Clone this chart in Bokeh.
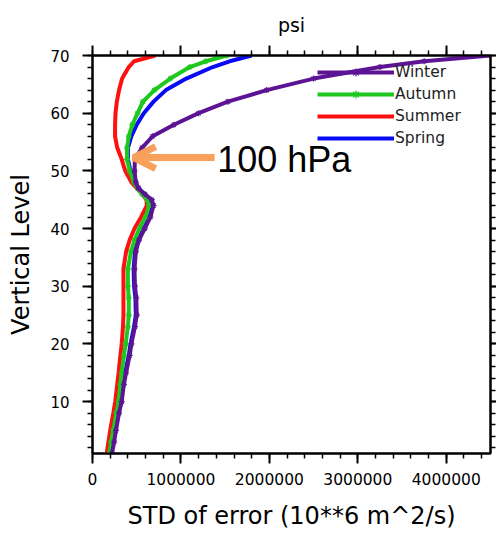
from bokeh.plotting import figure
from bokeh.models import (LinearAxis, FixedTicker, Range1d, Legend, LegendItem,
                          Arrow, OpenHead, Label, BasicTickFormatter, CustomJSTickFormatter)
from bokeh.embed import file_html
from bokeh.resources import INLINE

# ---- data (values in units of 10**6 m^2/s) ----
levels = [1, 3, 5, 8, 10, 13, 15, 18, 20, 23, 25, 28, 30, 33, 36, 38, 40, 42, 44, 45,
          46, 47, 48, 50, 52, 54, 56, 58, 60, 62, 64, 66, 68, 69, 70]
winter = [0.22, 0.245, 0.265, 0.30, 0.33, 0.355, 0.38, 0.42, 0.44, 0.48, 0.50, 0.495, 0.48,
          0.475, 0.49, 0.525, 0.59, 0.655, 0.69, 0.67, 0.59, 0.52, 0.49, 0.475, 0.48, 0.56,
          0.68, 0.92, 1.20, 1.53, 1.97, 2.50, 3.25, 3.75, 4.50]
autumn = [0.19, 0.21, 0.235, 0.27, 0.295, 0.315, 0.33, 0.355, 0.375, 0.40, 0.41, 0.41, 0.40,
          0.40, 0.435, 0.475, 0.53, 0.60, 0.64, 0.62, 0.56, 0.51, 0.47, 0.42, 0.39, 0.39,
          0.41, 0.45, 0.51, 0.57, 0.70, 0.88, 1.10, 1.28, 1.52]
summer = [0.16, 0.18, 0.20, 0.235, 0.257, 0.28, 0.295, 0.315, 0.33, 0.345, 0.35, 0.35, 0.35,
          0.35, 0.38, 0.42, 0.475, 0.55, 0.615, 0.61, 0.56, 0.50, 0.44, 0.37, 0.33, 0.28,
          0.255, 0.255, 0.26, 0.275, 0.30, 0.335, 0.41, 0.47, 0.71]
spring = [0.21, 0.235, 0.255, 0.29, 0.32, 0.345, 0.37, 0.41, 0.43, 0.47, 0.49, 0.485, 0.47,
          0.465, 0.48, 0.515, 0.58, 0.645, 0.68, 0.66, 0.58, 0.51, 0.475, 0.43, 0.40, 0.40,
          0.44, 0.50, 0.58, 0.69, 0.83, 1.06, 1.36, 1.55, 1.80]
UNIT = 1e6
X_MAX = 4.5e6
Y_MIN, Y_MAX = 1, 70

x_ticks = [0, 1000000, 2000000, 3000000, 4000000]
x_minor = [i * 200000 for i in range(0, 23)]
y_ticks = [10, 20, 30, 40, 50, 60, 70]
y_minor = [i * 2 for i in range(1, 36)]

title_text = "psi"
x_label = "STD of error (10**6 m^2/s)"
y_label = "Vertical Level"
annot_text = "100 hPa"
annot_level = 52.3          # level the arrow points at
annot_x_tip = 0.465         # x (10**6) of arrow tip
annot_x_tail = 1.38
annot_text_x = 1.41
annot_text_level = 51.9

FONT = "DejaVu Sans"
PURPLE = "#5c1495"
GREEN = "#1ec81e"
RED = "#ff1010"
BLUE = "#0a0af5"
ORANGE = "#f9a15c"

p = figure(width=496, height=535, output_backend="svg", toolbar_location=None,
           x_range=Range1d(0, X_MAX), y_range=Range1d(Y_MIN, Y_MAX),
           x_axis_location=None, y_axis_location=None,
           min_border_left=92, min_border_right=6, min_border_top=55, min_border_bottom=82)
p.grid.visible = False
p.outline_line_color = "black"
p.outline_line_width = 2
p.background_fill_color = "white"
p.border_fill_color = "white"

p.title.text = title_text
p.title.align = "center"
p.title.text_font = FONT
p.title.text_font_size = "19px"
p.title.text_font_style = "normal"
p.title.text_color = "black"
p.title.standoff = 20


def style_axis(ax, show_labels):
    ax.axis_line_width = 2
    ax.major_tick_line_width = 2
    ax.minor_tick_line_width = 1.5
    ax.major_tick_in = 0
    ax.minor_tick_in = 0
    ax.major_tick_out = 10
    ax.minor_tick_out = 5
    ax.major_label_text_font = FONT
    ax.major_label_text_color = "black"
    ax.axis_label_text_font = FONT
    ax.axis_label_text_font_style = "normal"
    ax.axis_label_text_color = "black"
    if not show_labels:
        ax.formatter = CustomJSTickFormatter(code="return ''")
        ax.major_label_standoff = 0


xt = FixedTicker(ticks=x_ticks, minor_ticks=x_minor)
yt = FixedTicker(ticks=y_ticks, minor_ticks=y_minor)

xb = LinearAxis(ticker=xt, formatter=BasicTickFormatter(use_scientific=False))
style_axis(xb, True)
xb.major_label_text_font_size = "15.5px"
xb.major_label_standoff = 9
xb.axis_label = x_label
xb.axis_label_text_font_size = "24px"
xb.axis_label_standoff = 14
p.add_layout(xb, "below")

xa = LinearAxis(ticker=xt)
style_axis(xa, False)
p.add_layout(xa, "above")

yl = LinearAxis(ticker=yt)
style_axis(yl, True)
yl.major_label_text_font_size = "15px"
yl.major_label_standoff = 13
yl.axis_label = y_label
yl.axis_label_text_font_size = "24px"
yl.axis_label_standoff = 12
p.add_layout(yl, "left")

yr = LinearAxis(ticker=yt)
style_axis(yr, False)
yr.major_tick_out = 6
p.add_layout(yr, "right")

def xs(vals):
    return [v * UNIT for v in vals]

LW = 4
r_spring = p.line(xs(spring), levels, line_color=BLUE, line_width=LW)
r_summer = p.line(xs(summer), levels, line_color=RED, line_width=LW)
r_autumn = p.line(xs(autumn), levels, line_color=GREEN, line_width=LW)
m_autumn = p.scatter(xs(autumn), levels, marker="asterisk", size=6, line_color=GREEN, line_width=1.2)
r_winter = p.line(xs(winter), levels, line_color=PURPLE, line_width=LW)
m_winter = p.scatter(xs(winter), levels, marker="asterisk", size=6, line_color=PURPLE, line_width=1.2)

legend = Legend(items=[
    LegendItem(label="Winter", renderers=[r_winter, m_winter]),
    LegendItem(label="Autumn", renderers=[r_autumn, m_autumn]),
    LegendItem(label="Summer", renderers=[r_summer]),
    LegendItem(label="Spring", renderers=[r_spring]),
], location=(225, 305))
legend.glyph_width = 77
legend.glyph_height = 20
legend.label_height = 20
legend.spacing = 2
legend.padding = 0
legend.margin = 0
legend.label_standoff = 1
legend.label_text_font = FONT
legend.label_text_font_size = "15.5px"
legend.label_text_color = "#222222"
legend.border_line_alpha = 0
legend.background_fill_alpha = 0
p.add_layout(legend)

arrow = Arrow(end=OpenHead(size=22, line_color=ORANGE, line_width=7),
              x_start=annot_x_tail * UNIT, y_start=annot_level,
              x_end=annot_x_tip * UNIT, y_end=annot_level,
              line_color=ORANGE, line_width=7)
p.add_layout(arrow)

lbl = Label(x=annot_text_x * UNIT, y=annot_text_level, text=annot_text,
            text_font="Liberation Sans", text_font_size="36px", text_color="black",
            text_baseline="alphabetic")
p.add_layout(lbl)

open("out.html", "w").write(file_html(p, INLINE))
